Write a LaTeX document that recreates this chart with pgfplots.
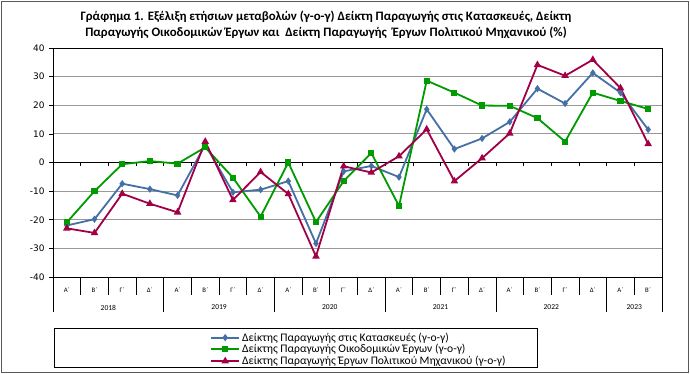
\documentclass[border=0pt]{standalone}
\usepackage{fontspec}
\setmainfont{Carlito}
\newfontfamily\dejavu{DejaVu Sans}
\usepackage{pgfplots}
\pgfplotsset{compat=1.18}
\definecolor{cblue}{RGB}{69,112,165}
\definecolor{cgreen}{RGB}{0,155,0}
\definecolor{cred}{RGB}{162,0,70}
\begin{document}
\begin{tikzpicture}
\fill[white] (0bp,0bp) rectangle (690bp,374bp);
\draw[black!65, line width=1.5bp] (1.5bp,1.5bp) rectangle (688.5bp,372.5bp);
\node[font=\bfseries\fontsize{12.9}{16.5}\selectfont, align=center, inner sep=0pt] at (326bp,349bp)
 {Γράφημα 1. Εξέλιξη ετήσιων μεταβολών (γ-ο-γ) Δείκτη Παραγωγής στις Κατασκευές, Δείκτη\\
  Παραγωγής Οικοδομικών Έργων και \ Δείκτη Παραγωγής \ Έργων Πολιτικού Μηχανικού (\%)};
\begin{axis}[
  at={(53bp,97bp)}, anchor=south west, scale only axis,
  width=609bp, height=229bp,
  xmin=-0.5, xmax=21.5, ymin=-40, ymax=40,
  clip=false,
  axis line style={black, line width=0.9bp},
  ytick={-40,-30,...,40},
  yticklabels={-40,-30,-20,-10,0,10,20,30,40},
  yticklabel style={font=\dejavu\fontsize{9}{10}\selectfont, xshift=-1bp},
  ytick pos=left, tick align=outside,
  ytick style={black, line width=0.7bp},
  major tick length=4bp,
  ymajorgrids, grid style={black!40, line width=0.9bp},
  xtick={0,...,21},
  xticklabels={Α΄,Β΄,Γ΄,Δ΄,Α΄,Β΄,Γ΄,Δ΄,Α΄,Β΄,Γ΄,Δ΄,Α΄,Β΄,Γ΄,Δ΄,Α΄,Β΄,Γ΄,Δ΄,Α΄,Β΄},
  xtick style={draw=none},
  xticklabel style={font=\fontsize{6.8}{7}\selectfont, anchor=center, yshift=-9bp},
  legend style={at={(0.258,-0.316)}, anchor=west, draw=none, fill=none,
    font=\fontsize{11.6}{12}\selectfont, row sep=-2.2bp, inner sep=0pt},
  legend cell align=left,
  legend image code/.code={\draw[mark repeat=2,mark phase=2] plot coordinates {(0bp,0bp) (14bp,0bp) (28bp,0bp)};},
]
\draw[black, line width=0.9bp] (axis cs:-0.5,0) -- (axis cs:21.5,0);
\pgfplotsinvokeforeach{0.5,1.5,2.5,4.5,5.5,6.5,8.5,9.5,10.5,12.5,13.5,14.5,16.5,17.5,18.5,20.5}{
  \draw[black, line width=0.8bp] (axis cs:#1,-40) -- ([yshift=-18bp]axis cs:#1,-40);
  \draw[black, line width=0.6bp] (axis cs:#1,0) -- ([yshift=-3.5bp]axis cs:#1,0);
}
\pgfplotsinvokeforeach{-0.5,3.5,7.5,11.5,15.5,19.5,21.5}{
  \draw[black, line width=0.8bp] (axis cs:#1,-40) -- ([yshift=-35bp]axis cs:#1,-40);
  \draw[black, line width=0.6bp] (axis cs:#1,0) -- ([yshift=-3.5bp]axis cs:#1,0);
}
\node[font=\fontsize{7.6}{8}\selectfont] at ([yshift=-30.5bp]axis cs:1.5,-40) {2018};
\node[font=\fontsize{7.6}{8}\selectfont] at ([yshift=-30.5bp]axis cs:5.5,-40) {2019};
\node[font=\fontsize{7.6}{8}\selectfont] at ([yshift=-30.5bp]axis cs:9.5,-40) {2020};
\node[font=\fontsize{7.6}{8}\selectfont] at ([yshift=-30.5bp]axis cs:13.5,-40) {2021};
\node[font=\fontsize{7.6}{8}\selectfont] at ([yshift=-30.5bp]axis cs:17.5,-40) {2022};
\node[font=\fontsize{7.6}{8}\selectfont] at ([yshift=-30.5bp]axis cs:20.5,-40) {2023};

\addplot[cblue, line width=1.8bp, mark=diamond*, mark size=2.2bp, mark options={solid}] coordinates {
(0,-22) (1,-19.8) (2,-7.4) (3,-9.3) (4,-11.5) (5,6.2) (6,-10.4) (7,-9.5) (8,-6.5) (9,-28.3) (10,-3.1)
(11,-1.2) (12,-5.1) (13,18.6) (14,4.7) (15,8.4) (16,14.2) (17,25.8) (18,20.6) (19,31.3) (20,24.4) (21,11.5)};
\addlegendentry{Δείκτης Παραγωγής στις Κατασκευές (γ-ο-γ)}
\addplot[cgreen, line width=1.8bp, mark=square*, mark size=2.2bp, mark options={solid}] coordinates {
(0,-20.9) (1,-10) (2,-0.6) (3,0.5) (4,-0.4) (5,5.3) (6,-5.3) (7,-18.9) (8,0) (9,-20.8) (10,-6.5)
(11,3.3) (12,-15.2) (13,28.6) (14,24.4) (15,19.9) (16,19.8) (17,15.5) (18,7.3) (19,24.4) (20,21.5) (21,18.7)};
\addlegendentry{Δείκτης Παραγωγής Οικοδομικών Έργων (γ-ο-γ)}
\addplot[cred, line width=1.8bp, mark=triangle*, mark size=2.6bp, mark options={solid}] coordinates {
(0,-23) (1,-24.6) (2,-10.9) (3,-14.4) (4,-17.4) (5,7.3) (6,-13.1) (7,-3.3) (8,-11) (9,-32.8) (10,-1.3)
(11,-3.5) (12,2.2) (13,11.6) (14,-6.5) (15,1.5) (16,10.2) (17,34.1) (18,30.3) (19,35.9) (20,26) (21,6.5)};
\addlegendentry{Δείκτης Παραγωγής Έργων Πολιτικού Μηχανικού (γ-ο-γ)}
\end{axis}
\draw[black, line width=0.9bp] (54bp,7bp) rectangle (537bp,46bp);
\end{tikzpicture}
\end{document}
